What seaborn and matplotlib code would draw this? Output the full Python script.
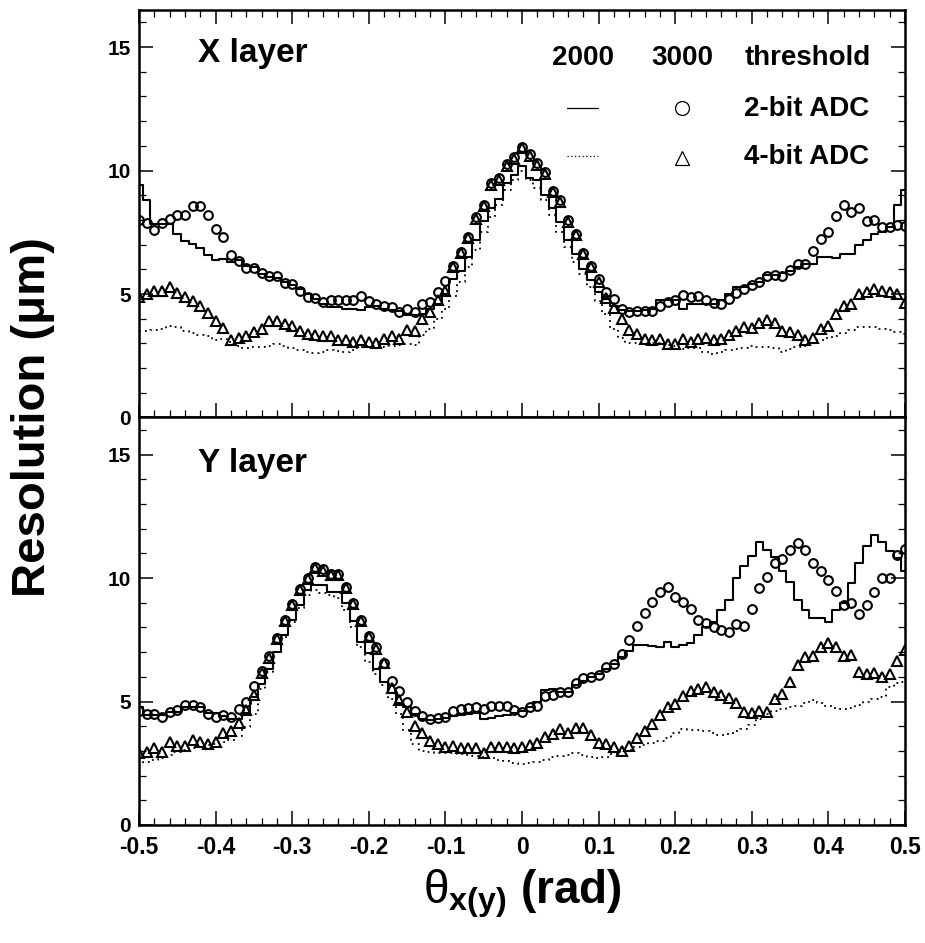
import numpy as np
import pandas as pd
import seaborn as sns
import matplotlib.pyplot as plt
from matplotlib.ticker import MultipleLocator, FuncFormatter
from matplotlib import font_manager

theta = np.round(np.arange(-50, 51) * 0.01, 2)

# X layer: solid/dotted = threshold 2000, markers = threshold 3000
x_2bit_2000 = [9.4, 8.8, 7.85, 7.85, 7.85, 7.43, 7.16, 7.03, 6.87, 6.56, 6.36, 6.42, 6.31, 6.36, 6.15, 6.09,
               5.83, 5.7, 5.63, 5.49, 5.35, 5.22, 5.02, 4.81, 4.61, 4.47, 4.47, 4.4, 4.4, 4.34, 4.47, 4.53,
               4.4, 4.35, 4.3, 4.15, 4.15, 4.2, 4.4, 4.6, 5.0, 5.6, 5.95, 6.5, 7.2, 7.95, 8.5, 8.85,
               9.5, 9.8, 10.2, 9.7, 9.6, 9.0, 8.5, 7.9, 7.2, 6.6, 6.0, 5.55, 5.1, 4.8, 4.5, 4.35,
               4.3, 4.3, 4.35, 4.4, 4.75, 4.75, 4.75, 4.4, 4.6, 4.6, 4.6, 4.6, 4.75, 5.0, 5.3, 5.3,
               5.4, 5.5, 5.75, 5.75, 5.85, 5.95, 6.1, 6.2, 6.22, 6.5, 6.5, 6.45, 6.6, 6.6, 7.0, 7.2,
               7.45, 7.5, 7.7, 8.6, 9.2]
x_4bit_2000 = [3.52, 3.52, 3.56, 3.59, 3.72, 3.66, 3.52, 3.42, 3.36, 3.28, 3.14, 3.19, 3.05, 2.91, 2.82, 2.85,
               2.87, 2.91, 2.98, 2.91, 2.82, 2.72, 2.64, 2.6, 2.64, 2.72, 2.69, 2.64, 2.72, 2.85, 2.91, 2.88,
               2.85, 2.9, 2.95, 2.98, 2.95, 3.35, 3.6, 4.0, 4.4, 4.9, 5.5, 6.1, 6.8, 7.5, 8.1, 8.6,
               9.2, 9.6, 10.0, 9.6, 9.3, 8.8, 8.2, 7.5, 6.9, 6.3, 5.8, 5.3, 4.7, 4.2, 3.6, 3.2,
               3.0, 3.0, 3.0, 3.03, 3.0, 2.93, 2.88, 2.78, 2.8, 2.82, 2.65, 2.57, 2.65, 2.72, 2.78, 2.82,
               2.88, 2.86, 2.84, 2.8, 2.66, 2.78, 2.86, 2.88, 3.0, 3.12, 3.22, 3.3, 3.42, 3.55, 3.68, 3.67,
               3.65, 3.6, 3.55, 3.45, 3.4]
x_2bit_3000 = [7.98, 7.87, 7.6, 7.87, 8.04, 8.18, 8.2, 8.57, 8.57, 8.18, 7.62, 7.3, 6.59, 6.33, 6.05, 6.05,
               5.84, 5.71, 5.71, 5.45, 5.41, 5.11, 4.87, 4.84, 4.67, 4.76, 4.76, 4.76, 4.76, 4.91, 4.71, 4.6,
               4.53, 4.47, 4.26, 4.4, 4.26, 4.6, 4.67, 5.07, 5.52, 6.15, 6.69, 7.3, 8.11, 8.62, 9.49, 9.7,
               10.27, 10.54, 10.97, 10.65, 10.3, 9.93, 9.19, 8.79, 7.98, 7.44, 6.65, 6.13, 5.6, 5.07, 4.78, 4.4,
               4.26, 4.33, 4.33, 4.3, 4.53, 4.67, 4.74, 4.94, 4.87, 4.91, 4.76, 4.63, 4.6, 4.81, 5.04, 5.21,
               5.35, 5.48, 5.72, 5.79, 5.71, 5.98, 6.22, 6.22, 6.76, 7.23, 7.5, 8.14, 8.62, 8.31, 8.47, 7.95,
               8.0, 7.71, 7.71, 7.81, 7.77]
x_4bit_3000 = [4.87, 5.0, 5.14, 5.14, 5.28, 5.04, 4.87, 4.71, 4.53, 4.22, 3.9, 3.63, 3.14, 3.21, 3.28, 3.48,
               3.59, 3.9, 3.89, 3.77, 3.69, 3.52, 3.39, 3.36, 3.28, 3.28, 3.12, 3.12, 3.05, 3.14, 3.05, 3.01,
               3.19, 3.32, 3.19, 3.55, 3.5, 4.0, 4.26, 4.74, 5.14, 6.1, 6.65, 7.25, 8.05, 8.55, 9.42, 9.63,
               10.2, 10.47, 10.9, 10.58, 10.23, 9.87, 9.12, 8.72, 7.92, 7.38, 6.6, 6.08, 5.5, 4.85, 4.45, 4.0,
               3.55, 3.4, 3.19, 3.15, 3.19, 2.98, 2.98, 3.19, 3.05, 3.19, 3.23, 3.15, 3.19, 3.36, 3.52, 3.66,
               3.63, 3.82, 3.95, 3.82, 3.52, 3.45, 3.36, 3.15, 3.23, 3.59, 3.72, 4.2, 4.53, 4.6, 5.0, 5.07,
               5.21, 5.14, 5.1, 5.0, 4.63]

# Y layer
y_2bit_2000 = [4.79, 4.45, 4.45, 4.45, 4.59, 4.59, 4.79, 4.79, 4.79, 4.52, 4.52, 4.4, 4.28, 4.28, 4.52, 5.2,
               5.7, 6.3, 7.0, 7.7, 8.3, 8.9, 9.5, 9.7, 9.7, 9.45, 9.45, 8.98, 8.24, 7.43, 6.95, 6.3,
               5.81, 5.33, 4.93, 4.77, 4.5, 4.3, 4.25, 4.3, 4.35, 4.4, 4.45, 4.5, 4.55, 4.3, 4.35, 4.4,
               4.45, 4.55, 4.6, 4.79, 4.99, 5.47, 5.5, 5.4, 5.4, 5.65, 5.85, 6.0, 6.1, 6.3, 6.5, 6.8,
               7.06, 7.28, 7.3, 7.25, 7.2, 7.4, 7.2, 7.3, 7.35, 7.7, 8.0, 8.2, 8.7, 9.1, 10.0, 10.5,
               10.9, 11.45, 11.15, 10.85, 10.3, 9.85, 9.1, 8.7, 8.37, 8.37, 8.23, 8.71, 8.97, 9.8, 10.6, 11.3,
               11.74, 11.45, 11.1, 10.8, 10.3]
y_4bit_2000 = [2.43, 2.55, 2.62, 2.72, 2.82, 2.95, 3.02, 3.1, 3.15, 3.22, 3.28, 3.35, 3.44, 3.62, 3.95, 4.5,
               5.5, 6.2, 7.0, 7.6, 8.2, 8.8, 9.3, 9.5, 9.4, 9.3, 9.2, 8.7, 8.0, 7.2, 6.6, 6.1,
               5.65, 5.1, 4.5, 3.85, 3.3, 3.0, 2.95, 2.93, 2.9, 2.9, 2.88, 2.85, 2.8, 2.77, 2.72, 2.65,
               2.58, 2.5, 2.45, 2.5, 2.57, 2.65, 2.75, 2.8, 2.83, 2.9, 2.85, 2.75, 2.7, 2.77, 2.88, 2.98,
               3.04, 3.14, 3.24, 3.32, 3.42, 3.52, 3.72, 3.9, 3.85, 3.85, 3.82, 3.72, 3.64, 3.7, 3.8, 3.9,
               4.05, 4.3, 4.5, 4.6, 4.68, 4.76, 4.82, 4.92, 5.06, 4.95, 4.82, 4.73, 4.7, 4.72, 4.85, 5.0,
               5.12, 5.2, 5.6, 5.74, 5.8]
y_2bit_3000 = [4.6, 4.5, 4.5, 4.39, 4.59, 4.66, 4.86, 4.86, 4.76, 4.5, 4.39, 4.45, 4.39, 4.68, 4.97, 5.63,
               6.25, 6.84, 7.58, 8.3, 8.95, 9.54, 9.99, 10.46, 10.35, 10.16, 10.16, 9.64, 8.98, 8.3, 7.65, 7.19,
               6.57, 5.84, 5.44, 4.99, 4.63, 4.43, 4.28, 4.32, 4.39, 4.63, 4.69, 4.73, 4.76, 4.69, 4.82, 4.82,
               4.82, 4.66, 4.59, 4.76, 4.82, 5.22, 5.26, 5.4, 5.4, 5.73, 5.94, 6.01, 6.07, 6.41, 6.52, 6.92,
               7.49, 8.06, 8.6, 9.04, 9.45, 9.62, 9.22, 9.04, 8.73, 8.3, 8.16, 8.03, 7.89, 7.83, 8.14, 8.06,
               8.73, 9.58, 10.03, 10.62, 10.76, 11.13, 11.43, 11.13, 10.62, 10.3, 9.92, 9.49, 8.91, 8.97, 8.54, 8.91,
               9.45, 9.99, 9.99, 10.93, 11.16]
y_4bit_3000 = [2.9, 2.97, 3.11, 2.97, 3.38, 3.18, 3.2, 3.44, 3.38, 3.28, 3.38, 3.72, 3.82, 4.14, 4.66, 5.26,
               6.14, 6.75, 7.52, 8.25, 8.9, 9.5, 9.95, 10.42, 10.3, 10.12, 10.12, 9.6, 8.94, 8.25, 7.6, 7.12,
               6.57, 5.53, 5.06, 4.59, 4.01, 3.74, 3.41, 3.28, 3.14, 3.2, 3.1, 3.1, 3.1, 2.9, 3.14, 3.14,
               3.14, 3.1, 3.17, 3.24, 3.33, 3.58, 3.68, 3.87, 3.74, 3.91, 3.91, 3.64, 3.31, 3.28, 3.14, 3.01,
               3.2, 3.51, 3.82, 4.09, 4.45, 4.77, 4.9, 5.22, 5.44, 5.49, 5.6, 5.4, 5.26, 5.13, 4.93, 4.59,
               4.55, 4.63, 4.59, 5.09, 5.3, 5.8, 6.48, 6.81, 6.84, 7.19, 7.36, 7.22, 6.84, 6.88, 6.21, 6.11,
               6.14, 5.98, 6.11, 6.65, 7.08]

x_df = pd.DataFrame({'theta': theta, 'h2': x_2bit_2000, 'h4': x_4bit_2000,
                     'm2': x_2bit_3000, 'm4': x_4bit_3000})
y_df = pd.DataFrame({'theta': theta, 'h2': y_2bit_2000, 'h4': y_4bit_2000,
                     'm2': y_2bit_3000, 'm4': y_4bit_3000})

sns.set_style('ticks')
plt.rcParams['font.family'] = ['Liberation Sans', 'DejaVu Sans']
plt.rcParams['axes.unicode_minus'] = False
plt.rcParams['text.color'] = 'black'
plt.rcParams['axes.labelcolor'] = 'black'
plt.rcParams['xtick.color'] = 'black'
plt.rcParams['ytick.color'] = 'black'
plt.rcParams['mathtext.fontset'] = 'custom'
plt.rcParams['mathtext.rm'] = 'Liberation Sans'
plt.rcParams['mathtext.bf'] = 'Liberation Sans:bold'

names = {f.name for f in font_manager.fontManager.ttflist}
if 'Liberation Sans Narrow' in names:
    xtick_font, xtick_size = 'Liberation Sans Narrow', 19
else:
    xtick_font, xtick_size = 'Liberation Sans', 16.5

fig = plt.figure(figsize=(9.25, 9.43), dpi=100)
W, H = 925, 943
ax1 = fig.add_axes([139 / W, 1 - 417.5 / H, 766 / W, 407.5 / H])
ax2 = fig.add_axes([139 / W, 1 - 825 / H, 766 / W, 407.5 / H], sharex=ax1)


def draw(ax, df):
    sns.lineplot(data=df, x='theta', y='h2', ax=ax, errorbar=None, color='black',
                 drawstyle='steps-mid', linewidth=1.5)
    sns.lineplot(data=df, x='theta', y='h4', ax=ax, errorbar=None, color='black',
                 drawstyle='steps-mid', linewidth=1.3, linestyle=(0, (1, 2.3)))
    sns.lineplot(data=df, x='theta', y='m2', ax=ax, errorbar=None, color='black',
                 linestyle='none', marker='o', markersize=6.3, markerfacecolor='none',
                 markeredgecolor='black', markeredgewidth=1.5)
    sns.lineplot(data=df, x='theta', y='m4', ax=ax, errorbar=None, color='black',
                 linestyle='none', marker='^', markersize=7, markerfacecolor='none',
                 markeredgecolor='black', markeredgewidth=1.5)
    ax.set_xlim(-0.5, 0.5)
    ax.set_ylim(0, 16.5)
    ax.set_xlabel('')
    ax.set_ylabel('')
    ax.xaxis.set_major_locator(MultipleLocator(0.1))
    ax.xaxis.set_minor_locator(MultipleLocator(0.02))
    ax.yaxis.set_major_locator(MultipleLocator(5))
    ax.yaxis.set_minor_locator(MultipleLocator(1))
    ax.tick_params(which='both', direction='in', right=True, color='black')
    ax.tick_params(which='major', length=10, width=1.1)
    ax.tick_params(which='minor', length=5, width=0.9)
    ax.tick_params(axis='y', pad=6)
    for s in ax.spines.values():
        s.set_linewidth(1.8)
        s.set_color('black')
    for lab in ax.get_yticklabels():
        lab.set_fontsize(15)
        lab.set_fontweight('bold')


draw(ax1, x_df)
draw(ax2, y_df)

ax1.tick_params(which='both', top=True, labelbottom=False)
ax2.tick_params(which='both', top=False)
ax2.xaxis.set_major_formatter(FuncFormatter(lambda v, p: '0' if abs(v) < 1e-9 else f'{round(v, 2):g}'))
ax2.tick_params(axis='x', pad=8)
for lab in ax2.get_xticklabels():
    lab.set_family(xtick_font)
    lab.set_fontsize(xtick_size)
    lab.set_fontweight('bold')

# panel titles
ax1.text(0.077, 0.872, 'X layer', transform=ax1.transAxes, fontsize=24, fontweight='bold')
ax2.text(0.077, 0.866, 'Y layer', transform=ax2.transAxes, fontsize=24, fontweight='bold')

# legend table
tk = dict(transform=ax1.transAxes, fontsize=20, fontweight='bold', va='baseline')
ax1.text(0.579, 0.865, '2000', ha='center', **tk)
ax1.text(0.709, 0.865, '3000', ha='center', **tk)
ax1.text(0.790, 0.865, 'threshold', ha='left', **tk)
ax1.text(0.790, 0.740, '2-bit ADC', ha='left', **tk)
ax1.text(0.790, 0.622, '4-bit ADC', ha='left', **tk)
ax1.plot([0.559, 0.599], [0.7595, 0.7595], transform=ax1.transAxes, color='black', lw=0.9)
ax1.plot([0.559, 0.599], [0.642, 0.642], transform=ax1.transAxes, color='black', lw=0.9,
         linestyle=(0, (1, 2)))
ax1.plot([0.709], [0.7595], transform=ax1.transAxes, marker='o', ms=10, mfc='none',
         mec='black', mew=0.9)
ax1.plot([0.709], [0.638], transform=ax1.transAxes, marker='^', ms=10, mfc='none',
         mec='black', mew=0.9)

fig.text(33 / W, 1 - 417 / H, 'Resolution (μm)', rotation=90, ha='center', va='center',
         fontsize=34, fontweight='bold')
fig.text(522 / W, 1 - 903 / H, r'$\mathrm{\theta}_{\mathbf{x(y)}}$ (rad)', ha='center',
         va='baseline', fontsize=33, fontweight='bold')

fig.savefig('out.png', dpi=100)
